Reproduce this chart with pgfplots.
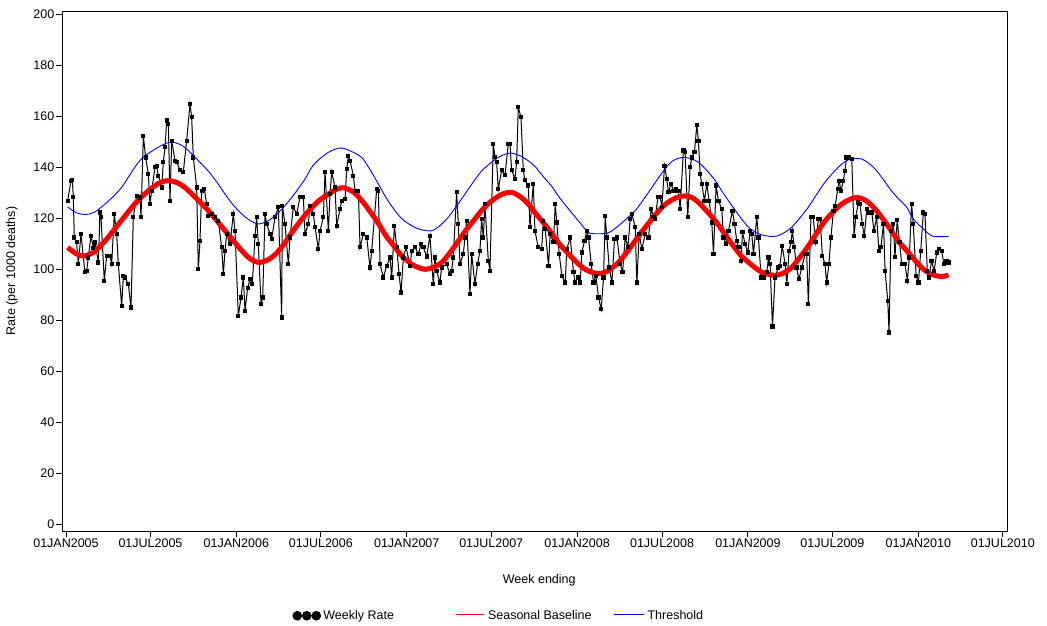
\documentclass[border=0pt]{standalone}
\usepackage{fontspec}
\setmainfont{Liberation Sans}
\usepackage{pgfplots}
\pgfplotsset{compat=1.18}
\begin{document}
\fontsize{12.5}{15}\selectfont
\begin{tikzpicture}
\useasboundingbox (-62pt,-94pt) rectangle (985pt,531pt);
\begin{axis}[
  scale only axis, width=945pt, height=520pt,
  xmin=-1.22, xmax=288.0, ymin=-2.75, ymax=201.4,
  xtick={0,25.857,52.143,78,104.286,130.143,156.429,182.429,208.714,234.571,260.857,286.714},
  xticklabels={01JAN2005,01JUL2005,01JAN2006,01JUL2006,01JAN2007,01JUL2007,01JAN2008,01JUL2008,01JAN2009,01JUL2009,01JAN2010,01JUL2010},
  ytick={0,20,...,200},
  tick align=outside, xtick pos=left, ytick pos=left,
  major tick length=6pt,
  tick style={black, line width=0.9pt},
  axis line style={line width=0.9pt},
  /pgf/number format/assume math mode=true,
  tick label style={font=\fontsize{12.5}{15}\selectfont},
  yticklabel style={inner sep=1.5pt},
  xticklabel style={inner sep=2pt},
  xlabel={Week ending}, ylabel={Rate (per 1000 deaths)},
  every axis x label/.style={at={(axis description cs:0.505,-0.094)}, anchor=center, font=\fontsize{12.5}{15}\selectfont},
  every axis y label/.style={at={(axis description cs:-0.0529,0.5)}, rotate=90, anchor=center, font=\fontsize{12.5}{15}\selectfont},
  legend columns=3,
  legend style={draw=white, fill=white, at={(axis description cs:0.2434,-0.163)}, anchor=west, inner sep=0pt, font=\fontsize{12.5}{15}\selectfont},
  legend image code/.code={\draw[#1] (0pt,0pt) -- (28pt,0pt); \path[#1, draw=none] plot coordinates {(4.5pt,0pt)(14pt,0pt)(23.5pt,0pt)};},
  clip=false,
]
\addplot[black, line width=1pt, mark=square*, mark size=1.6pt, forget plot]
coordinates {
(0.51,126.9)(1.53,134.8)(1.94,135.1)(2.24,128.3)(2.55,112.5)(3.26,110.6)(3.77,102.0)(4.59,113.8)(5.81,98.8)(6.33,99.4)(6.83,104.6)(7.65,113.1)(8.37,108.5)(8.88,110.5)(9.90,102.7)(10.41,122.3)(10.71,120.4)(11.73,95.5)(12.45,105.3)(13.47,105.3)(13.98,102.0)(14.79,121.7)(15.51,113.8)(16.02,102.0)(17.04,85.6)(17.55,97.4)(18.06,96.8)(19.08,94.2)(19.90,85.0)(20.61,120.4)(21.63,128.9)(22.65,128.2)(22.96,120.4)(23.67,152.4)(24.39,143.9)(25.20,137.4)(25.71,125.6)(26.22,130.8)(27.24,140.0)(27.75,140.6)(28.26,136.7)(29.28,132.1)(29.80,142.0)(30.31,147.9)(30.82,158.4)(31.33,157.0)(31.84,126.9)(32.35,150.5)(33.37,142.6)
(33.87,142.2)(34.89,138.9)(35.91,138.2)(36.93,150.5)(37.95,164.9)(38.46,159.7)(38.97,143.9)(39.99,132.1)(40.50,100.0)(41.01,111.2)(41.52,130.8)(42.34,131.5)(43.05,125.6)(43.56,121.0)(44.58,121.7)(45.60,120.4)(46.63,119.0)(47.65,108.6)(48.16,98.1)(48.67,107.3)(49.18,113.8)(50.20,109.9)(51.22,121.7)(51.73,115.1)(52.75,81.7)(53.56,88.9)(54.28,96.8)(54.79,83.7)(55.60,92.8)(56.32,96.1)(57.03,94.2)(57.85,113.1)(58.36,120.4)(58.87,109.9)(59.69,86.3)(60.20,88.9)(60.91,121.7)(61.42,117.8)(62.44,113.8)(62.95,111.9)(63.97,120.4)(65.0,124.4)(66.01,81.1)(66.22,125.0)(67.03,117.8)(68.05,102.0)(68.56,112.5)(69.58,124.4)(70.60,121.7)(71.63,128.3)(72.64,128.3)
(73.16,113.8)(74.18,117.8)(74.69,125.0)(75.71,121.7)(76.22,116.5)(77.24,107.9)(77.75,115.1)(78.77,120.4)(79.28,138.2)(80.30,115.1)(80.81,129.5)(81.32,138.2)(82.34,132.1)(82.86,117.1)(83.88,123.7)(84.39,126.9)(85.41,127.6)(85.92,139.4)(86.43,144.6)(86.94,142.6)(87.96,136.7)(88.47,130.8)(89.49,130.8)(90.0,108.6)(91.02,113.8)(92.04,112.5)(93.06,100.7)(93.57,107.3)(95.10,131.5)(95.61,130.8)(96.12,102.0)(97.14,96.8)(98.16,101.4)(99.18,104.6)(99.69,96.8)(100.51,117.1)(101.22,108.6)(101.94,98.1)(102.55,90.9)(103.26,104.6)(104.08,108.6)(105.30,101.4)(105.81,107.3)(106.84,108.6)(107.86,106.0)(108.67,110.0)(109.39,108.6)
(110.37,105.0)(111.39,113.1)(112.41,94.2)(112.92,104.6)(113.43,99.4)(114.45,94.8)(114.96,100.7)(116.49,102.0)(117.51,98.1)(118.02,99.4)(118.53,104.6)(119.55,130.2)(120.07,117.8)(120.58,102.0)(121.60,106.0)(122.11,112.5)(122.62,119.0)(123.64,90.2)(124.15,106.0)(125.17,94.2)(125.98,102.0)(126.70,107.3)(127.21,119.7)(127.72,112.5)(128.23,125.6)(129.25,103.4)(129.76,99.4)(130.78,149.2)(131.29,144.0)(131.80,142.0)(132.31,131.5)(133.33,138.9)(134.35,136.9)(135.37,149.2)(135.88,149.2)(136.39,138.9)(137.41,135.6)(137.92,142.0)(138.43,163.6)(139.25,159.7)(139.96,138.9)(140.47,134.9)(141.49,132.9)(142.0,116.5)(143.03,133.6)(143.53,115.1)(144.55,108.6)(145.57,107.9)(146.09,119.0)
(146.66,115.7)(147.68,101.4)(148.19,113.8)(149.21,110.6)(149.72,125.6)(150.23,118.4)(150.95,106.0)(151.76,97.4)(152.78,94.8)(153.29,107.9)(154.31,112.5)(155.33,98.8)(155.84,94.8)(156.66,96.8)(157.38,94.8)(157.89,106.6)(158.70,111.2)(159.42,115.1)(159.93,112.5)(160.74,102.0)(161.46,94.8)(162.17,97.4)(162.99,88.9)(163.80,84.3)(164.52,96.8)(165.03,121.0)(165.54,112.5)(166.25,100.7)(167.07,94.8)(167.89,112.0)(168.60,112.5)(169.62,102.0)(170.34,98.8)(171.15,112.5)(171.97,108.6)(172.68,119.7)(173.19,121.7)(174.21,116.5)(174.72,94.8)(175.44,113.8)(176.25,107.9)(177.27,113.8)(178.29,112.5)(179.11,123.7)(179.82,120.4)(180.33,119.7)(181.15,128.3)(181.87,128.3)(182.38,124.4)(183.19,140.6)
(183.87,135.5)(184.38,130.2)(185.20,133.6)(185.91,130.8)(186.63,131.5)(187.44,130.8)(187.95,123.7)(188.97,146.6)(189.48,146.0)(190.30,120.4)(191.01,140.0)(191.52,143.9)(192.34,146.0)(193.06,156.5)(193.57,150.5)(194.08,137.4)(194.59,133.6)(195.40,126.9)(196.12,133.6)(196.83,126.9)(197.65,118.4)(198.16,106.0)(198.97,132.9)(199.69,126.9)(200.71,123.7)(201.22,112.5)(201.93,109.9)(202.75,115.1)(203.97,123.0)(204.59,117.8)(205.30,111.2)(205.81,108.6)(206.63,103.4)(207.03,114.5)(207.85,109.9)(208.67,106.6)(209.38,115.1)(209.89,113.8)(210.40,106.0)(211.42,120.4)(211.93,112.5)(212.75,96.8)(213.46,96.8)(214.48,98.8)(214.99,104.6)(215.50,102.0)(216.22,77.5)
(217.0,96.8)(218.0,100.7)(218.5,101.4)(219.2,109.2)(220.1,102.0)(220.6,94.2)(221.3,107.3)(221.9,110.6)(222.3,115.1)(222.9,108.6)(223.6,100.7)(224.3,96.1)(225.2,100.7)(226.2,106.0)(226.7,106.0)(227.2,86.3)(228.0,120.4)(228.7,120.4)(229.4,110.6)(230.3,119.7)(230.8,119.7)(231.5,105.3)(232.3,102.0)(232.8,94.8)(233.5,102.0)(234.1,112.5)(234.9,123.0)(235.4,125.0)(236.2,131.5)(236.6,134.8)(237.2,130.8)(237.9,134.8)(238.4,138.7)(238.9,143.9)(239.7,143.9)(240.5,143.3)(241.2,113.1)(241.7,120.4)(242.5,126.2)(243.0,125.6)(243.7,117.8)(244.3,113.1)(245.1,123.7)(245.8,122.3)(246.6,122.3)(247.3,115.1)(248.1,120.4)(248.8,107.3)(249.4,108.6)(250.2,117.8)(250.7,99.4)(251.5,87.6)(251.9,75.2)(252.5,115.1)
(253.2,117.8)(253.7,104.7)(254.4,119.2)(255.1,110.6)(255.8,102.0)(256.8,102.0)(257.5,95.5)(258.1,104.6)(258.8,125.6)(259.3,117.8)(260.2,97.4)(260.9,94.8)(261.6,107.3)(262.4,122.3)(262.9,121.7)(263.6,99.4)(264.2,96.8)(264.9,103.4)(265.7,99.4)(266.5,106.6)(267.3,107.9)(268.0,107.3)(268.7,102.0)(269.5,103.4)(270.1,102.7)
};
\addplot[red, line width=5pt, smooth, forget plot]
coordinates {
(0.5,108.6)(3,106.2)(5.5,105.2)(8.5,106.8)(12,111.2)(15,116)(18,120.8)(21,125.6)(24,129.5)(27,132.6)(29,134.2)(31.3,134.8)(34,134)(36.5,132)(39.5,128.3)(43.6,123)(48.7,115.1)(53.8,107.3)(56.5,104)(58.9,102.7)(61.5,103.5)(64,105.8)(66.5,109.5)(69,114.2)(73,121)(77,126.5)(80.3,129.5)(83,131.5)(85,132)(88,130.3)(90.5,127)(93,122.8)(95.6,118)(98,113)(100.7,108.6)(103,105)(105.8,102)(108,100.6)(110,100)(112.5,100.8)(115,102.7)(117.5,106.5)(120,111)(122.5,115.5)(125,119.5)(127.5,123.5)(130.3,126.9)(133.5,129.5)(136.4,130.2)(139,128.5)(141.5,125.6)(144,121.5)(146.6,117.5)(148.7,114)(151,110)(153.8,106)(156.5,102.5)(158.9,100)(161,98.8)(163.5,98.3)(166,99.5)(169.1,102.7)(171.5,106.5)(174.2,111.2)(177,116)(179.3,119.7)(182,123.8)(184.5,126.5)(187,128.2)(189.5,128.8)(191.5,128.2)(193.6,126.2)(196,123)(198.7,119)(201,115)(203.8,109.9)(206.5,105.5)(208.9,102.7)(211,100.5)(213,98.8)(215,98)(217,97.6)(219,98.2)(220.5,99.2)(222.1,100.7)(224.5,104.5)(227.2,109.2)(229.8,114.3)(232.3,119)(235,122.8)(237.4,125.6)(239.7,127.3)(242,128.2)(244.8,127)(247.6,123.7)(250,119.8)(252.4,115.5)(254.8,111)(257.3,107.3)(260,103.3)(262.4,100)(264.5,98.3)(266.5,97.4)(268.5,97.2)(270.1,97.8)
};
\addplot[blue, line width=0.9pt, smooth, forget plot]
coordinates {
(0.5,124.5)(3,122.3)(5.8,121.5)(8.5,122.3)(10.9,124.5)(14,128)(17,132.1)(19.5,137)(22.1,141.9)(24.5,144.8)(27.2,147.1)(29.5,148.8)(31.3,149.7)(33.4,149.7)(36,148.2)(38.5,145.3)(41,142)(43.6,138.5)(46,134.5)(48.7,129.5)(51,125.5)(53.8,121.7)(56.5,119)(58.9,117.8)(61.5,118.8)(64,121)(66.5,124.2)(69.1,128.2)(71,131.5)(73.2,135.5)(75.2,140)(77.5,143.2)(80.3,145.9)(82.5,147.2)(84.4,147.6)(87,146.5)(90.5,143.9)(93,139.2)(95.6,133.5)(98,128)(100.7,123)(103,119.6)(105.8,117.1)(108.5,115.6)(111.9,115.1)(114.5,117.2)(117,120.4)(119.5,124.8)(122.1,129.5)(124.5,134)(127.2,138.6)(129.8,141.6)(132.3,143.9)(134.5,145.2)(136.4,145.6)(139,144.5)(141.5,142.6)(143.6,140.3)(146,136.5)(148.7,132.5)(151,128.2)(153.8,123.7)(156.5,119.5)(158.9,115.8)(160.4,114.1)(165.5,114.1)(167.5,115.5)(169.1,117.1)(171.5,119.8)(174.2,123)(176.8,127.5)(179.3,132.1)(181.5,136.2)(183.4,139.5)(185.4,142.3)(187.5,143.6)(189.5,143.9)(191.5,143.3)(193.6,142)(196,139)(198.7,134.8)(201,130.2)(203.8,125)(206.5,120.2)(208.9,116.5)(211.5,114.2)(214,113.2)(216,112.9)(218,113.2)(220.1,114.6)(222.1,116.5)(224.5,120)(227.2,124.4)(229.8,129.5)(232.3,134.2)(235,138.2)(237.4,141.3)(239.5,143)(241,143.4)(243.5,143.3)(245.5,141.8)(247.6,139.4)(250,135.5)(252.5,131)(255,127.4)(257.3,124.4)(259.3,119.8)(262.4,115.8)(264,114)(265.5,112.9)(270.1,112.9)
};
\addlegendimage{black, line width=1.2pt, mark=*, mark size=4.2pt}
\addlegendentry{Weekly Rate\hspace*{58pt}}
\addlegendimage{legend image code/.code={}}
\addlegendentry{\textcolor{red}{\rule[4pt]{28pt}{1.2pt}}\hspace{4pt}Seasonal Baseline\hspace*{18pt}}
\addlegendimage{legend image code/.code={}}
\addlegendentry{\textcolor{blue}{\rule[4pt]{30pt}{1.2pt}}\hspace{4pt}Threshold}
\end{axis}
\end{tikzpicture}
\end{document}
